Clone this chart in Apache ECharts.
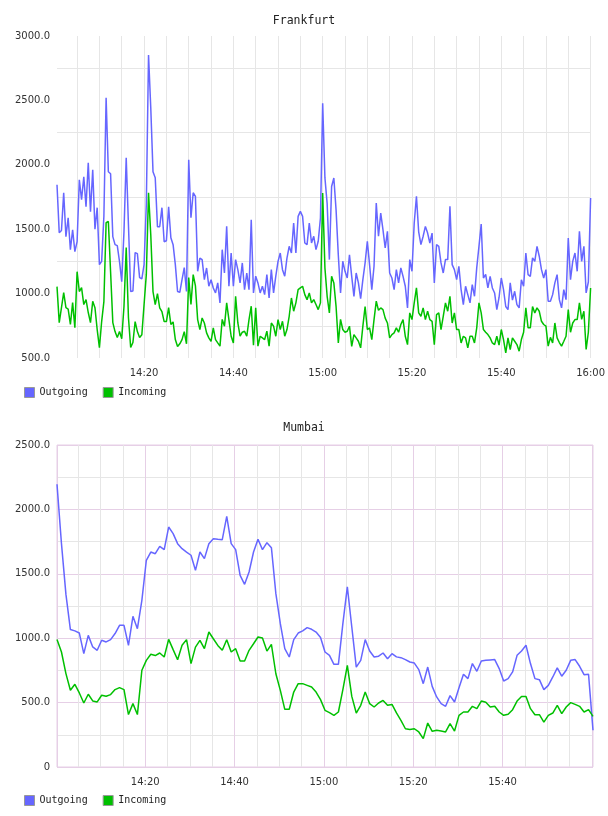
<!DOCTYPE html>
<html>
<head>
<meta charset="utf-8">
<title>Frankfurt / Mumbai traffic</title>
<script src="https://cdn.jsdelivr.net/npm/echarts@6/dist/echarts.min.js"></script>
<style>
  html, body { margin: 0; padding: 0; background: #fff; }
  #chart { width: 608px; height: 816px; }
</style>
</head>
<body>
<div id="chart"></div>
<script>
// ---- data -------------------------------------------------------------
const seriesNames = ['Outgoing', 'Incoming'];
const titles = ['Frankfurt', 'Mumbai'];

// Frankfurt: one sample every 30 s, first one at 14:00:30
const fraFirst = '14:00:30';
const fraStepSec = 30;
const fraTicks = ['14:20', '14:40', '15:00', '15:20', '15:40', '16:00'];
const fraOutgoing = [
  1845, 1473, 1490, 1783, 1442, 1589, 1341, 1496, 1326, 1403,
  1884, 1729, 1907, 1674, 2016, 1636, 1961, 1500, 1667, 1225,
  1250, 1600, 2520, 1946, 1930, 1442, 1380, 1372, 1248, 1093,
  1481, 2054, 1535, 1016, 1020, 1318, 1310, 1124, 1115, 1225,
  1690, 2853, 2442, 1946, 1900, 1519, 1519, 1667, 1403, 1410,
  1674, 1434, 1380, 1225, 1016, 1010, 1109, 1202, 1016, 2039,
  1589, 1783, 1755, 1173, 1276, 1264, 1108, 1199, 1057, 1108,
  1044, 1005, 1083, 927, 1341, 1160, 1522, 1057, 1315, 1057,
  1264, 1186, 1083, 1238, 1031, 1160, 1031, 1573, 1005, 1135,
  1083, 1005, 1057, 992, 1147, 966, 1186, 1005, 1135, 1250,
  1315, 1186, 1135, 1276, 1367, 1315, 1548, 1315, 1600, 1638,
  1600, 1393, 1380, 1548, 1393, 1445, 1341, 1406, 1587, 2478,
  1900, 1700, 1264, 1832, 1897, 1650, 1300, 1005, 1251, 1173,
  1121, 1302, 1134, 979, 1160, 1083, 960, 1108, 1238, 1406,
  1225, 1031, 1212, 1703, 1445, 1625, 1496, 1354, 1483, 1160,
  1121, 1031, 1186, 1083, 1200, 1134, 1057, 889, 1264, 1173,
  1548, 1755, 1480, 1380, 1445, 1522, 1470, 1393, 1470, 1083,
  1380, 1367, 1238, 1160, 1264, 1264, 1677, 1225, 1186, 1108,
  1212, 1031, 915, 1057, 992, 928, 1070, 979, 1200, 1367,
  1540, 1121, 1150, 1044, 1134, 1044, 1005, 876, 970, 1121,
  1031, 900, 876, 1083, 950, 1018, 915, 889, 1108, 1057,
  1315, 1147, 1134, 1277, 1251, 1367, 1290, 1186, 1121, 1186,
  941, 941, 992, 1083, 1147, 953, 889, 1031, 953, 1432,
  1108, 1250, 1315, 1173, 1483, 1250, 1367, 1005, 1090, 1742
];
const fraIncoming = [
  1054, 775, 891, 1008, 891, 880, 760, 930, 736, 1170,
  1016, 1047, 915, 954, 853, 775, 940, 891, 721, 581,
  783, 938, 1550, 1560, 1170, 775, 705, 659, 705, 650,
  900, 1357, 814, 581, 620, 783, 705, 659, 680, 915,
  1147, 1783, 1457, 1016, 915, 1000, 890, 860, 783, 783,
  891, 760, 780, 643, 589, 610, 643, 705, 610, 1124,
  915, 1147, 1060, 798, 721, 811, 772, 695, 656, 630,
  734, 643, 617, 592, 800, 747, 928, 798, 669, 617,
  979, 772, 669, 700, 708, 669, 798, 902, 600, 889,
  592, 669, 656, 643, 708, 592, 772, 747, 669, 798,
  721, 785, 669, 721, 824, 966, 863, 928, 1031, 1044,
  1057, 992, 953, 1005, 928, 953, 915, 876, 928, 1780,
  1200, 979, 850, 1134, 1083, 900, 617, 800, 721, 700,
  708, 747, 590, 682, 656, 630, 579, 747, 900, 721,
  734, 643, 798, 941, 870, 889, 876, 810, 772, 656,
  682, 695, 734, 700, 760, 798, 669, 604, 850, 798,
  928, 1044, 850, 824, 889, 798, 863, 798, 785, 604,
  837, 850, 721, 824, 928, 863, 979, 772, 850, 721,
  721, 617, 669, 656, 579, 669, 669, 617, 734, 928,
  850, 721, 700, 682, 656, 617, 604, 669, 600, 721,
  643, 540, 656, 566, 656, 630, 604, 553, 643, 700,
  889, 734, 734, 900, 850, 889, 863, 785, 760, 747,
  592, 660, 617, 772, 656, 620, 592, 630, 669, 876,
  700, 772, 798, 798, 928, 800, 863, 566, 700, 1044
];

// Mumbai: one sample a minute, first one at 14:00:15
const mumFirst = '14:00:15';
const mumStepSec = 60;
const mumTicks = ['14:20', '14:40', '15:00', '15:20', '15:40'];
const mumOutgoing = [
  2195, 1734, 1340, 1067, 1057, 1040, 880, 1022, 932, 906,
  984, 971, 989, 1036, 1100, 1100, 945, 1170, 1074, 1294,
  1605, 1669, 1656, 1713, 1687, 1863, 1812, 1734, 1695, 1669,
  1644, 1527, 1669, 1618, 1734, 1773, 1768, 1765, 1946, 1734,
  1688, 1488, 1418, 1514, 1669, 1768, 1688, 1742, 1703, 1346,
  1113, 919, 854, 989, 1040, 1057, 1082, 1069, 1048, 1005,
  893, 867, 797, 797, 1113, 1398, 1087, 776, 828, 989,
  901, 854, 860, 885, 841, 880, 855, 849, 834, 815,
  807, 756, 647, 776, 626, 544, 492, 471, 554, 505,
  616, 720, 686, 803, 743, 823, 828, 831, 834, 764,
  668, 686, 738, 867, 901, 945, 803, 686, 678, 601,
  634, 699, 769, 705, 751, 828, 834, 782, 717, 720,
  285
];
const mumIncoming = [
  989, 893, 725, 596, 642, 575, 497, 565, 513, 505,
  557, 549, 562, 601, 616, 601, 407, 492, 407, 751,
  828, 875, 865, 885, 854, 991, 911, 833, 945, 989,
  803, 931, 983, 919, 1048, 996, 944, 906, 988, 893,
  919, 823, 823, 906, 957, 1009, 1001, 900, 952, 724,
  595, 448, 448, 582, 647, 647, 634, 621, 582, 523,
  440, 422, 401, 427, 600, 789, 548, 419, 479, 582,
  492, 466, 497, 517, 479, 486, 420, 362, 297, 292,
  297, 272, 220, 341, 277, 285, 279, 272, 336, 279,
  401, 427, 427, 471, 453, 512, 502, 466, 471, 427,
  401, 409, 445, 512, 548, 548, 453, 406, 406, 349,
  401, 419, 479, 414, 466, 500, 486, 471, 427, 445,
  393
];

// ---- helpers ----------------------------------------------------------
const OUT_COLOR = '#6666ff';
const IN_COLOR = '#00c000';
const GREY = '#e6e6e6';
const PINK = '#e6cfe6';
const LABEL_FONT = 'DejaVu Sans';
const MONO_FONT = 'DejaVu Sans Mono';

// minutes after 14:00
function clockToMin(s) {
  const p = s.split(':').map(Number);
  return (p[0] - 14) * 60 + p[1] + (p[2] || 0) / 60;
}

function samples(first, stepSec, values) {
  const t0 = clockToMin(first);
  return values.map((v, i) => [t0 + (i * stepSec) / 60, v]);
}

function timeLabel(ticks) {
  return function (v) {
    if (Math.abs(v - Math.round(v)) > 1e-6) return '';
    const h = 14 + Math.floor(v / 60);
    const m = Math.round(v % 60);
    const s = h + ':' + (m < 10 ? '0' : '') + m;
    return ticks.indexOf(s) >= 0 ? s : '';
  };
}

function valueLabel(v) {
  if (v % 500 !== 0) return '';
  return v === 0 ? '0' : v.toFixed(1);
}

const fraData = [samples(fraFirst, fraStepSec, fraOutgoing), samples(fraFirst, fraStepSec, fraIncoming)];
const mumData = [samples(mumFirst, mumStepSec, mumOutgoing), samples(mumFirst, mumStepSec, mumIncoming)];

const axisText = { color: '#333', fontFamily: LABEL_FONT, fontSize: 10 };

function lineSeries(name, data, idx, color) {
  return {
    name: name,
    type: 'line',
    xAxisIndex: idx,
    yAxisIndex: idx,
    data: data,
    symbol: 'none',
    showSymbol: false,
    lineStyle: { width: 1.5, color: color },
    itemStyle: { color: color }
  };
}

function legendAt(top) {
  return {
    data: seriesNames,
    left: 24,
    top: top,
    padding: 0,
    icon: 'rect',
    itemWidth: 10,
    itemHeight: 10,
    itemGap: 15,
    itemStyle: { borderColor: '#999', borderWidth: 1 },
    textStyle: { color: '#222', fontFamily: MONO_FONT, fontSize: 10 }
  };
}

const titleStyle = { color: '#222', fontFamily: MONO_FONT, fontSize: 11.5, fontWeight: 'normal' };

// ---- chart ------------------------------------------------------------
const chart = echarts.init(document.getElementById('chart'));

const option = {
  animation: false,
  backgroundColor: '#fff',
  title: [
    { text: titles[0], left: 'center', top: 15, padding: 0, textStyle: titleStyle },
    { text: titles[1], left: 'center', top: 422, padding: 0, textStyle: titleStyle }
  ],
  legend: [legendAt(387), legendAt(795)],
  grid: [
    { left: 57, right: 17, top: 36, height: 322 },
    { left: 57, right: 15, top: 445, height: 322, show: true, borderColor: PINK, borderWidth: 1 }
  ],
  xAxis: [
    {
      type: 'value',
      gridIndex: 0,
      min: fraData[0][0][0],
      max: fraData[0][fraData[0].length - 1][0],
      minInterval: 5,
      maxInterval: 5,
      axisLine: { show: false },
      axisTick: { show: false },
      axisLabel: Object.assign({ margin: 10, formatter: timeLabel(fraTicks) }, axisText),
      splitLine: { show: true, showMinLine: false, lineStyle: { color: GREY, width: 1 } }
    },
    {
      type: 'value',
      gridIndex: 1,
      min: mumData[0][0][0],
      max: mumData[0][mumData[0].length - 1][0],
      minInterval: 5,
      maxInterval: 5,
      axisLine: { show: false },
      axisTick: { show: false },
      axisLabel: Object.assign({ margin: 10, formatter: timeLabel(mumTicks) }, axisText),
      // every 20 minutes a pink line, grey in between
      splitLine: { show: true, showMaxLine: false, lineStyle: { color: [PINK, GREY, GREY, GREY], width: 1 } }
    }
  ],
  yAxis: [
    {
      type: 'value',
      gridIndex: 0,
      min: 500,
      max: 3000,
      interval: 250,
      axisLine: { show: false },
      axisTick: { show: false },
      axisLabel: Object.assign({ margin: 7, formatter: valueLabel }, axisText),
      splitLine: { show: true, lineStyle: { color: ['rgba(0,0,0,0)', GREY], width: 1 } }
    },
    {
      type: 'value',
      gridIndex: 1,
      min: 0,
      max: 2500,
      interval: 250,
      axisLine: { show: false },
      axisTick: { show: false },
      axisLabel: Object.assign({ margin: 7, formatter: valueLabel }, axisText),
      splitLine: { show: true, lineStyle: { color: [PINK, GREY], width: 1 } }
    }
  ],
  series: [
    lineSeries(seriesNames[0], fraData[0], 0, OUT_COLOR),
    lineSeries(seriesNames[1], fraData[1], 0, IN_COLOR),
    lineSeries(seriesNames[0], mumData[0], 1, OUT_COLOR),
    lineSeries(seriesNames[1], mumData[1], 1, IN_COLOR)
  ]
};

chart.setOption(option);
</script>
</body>
</html>
